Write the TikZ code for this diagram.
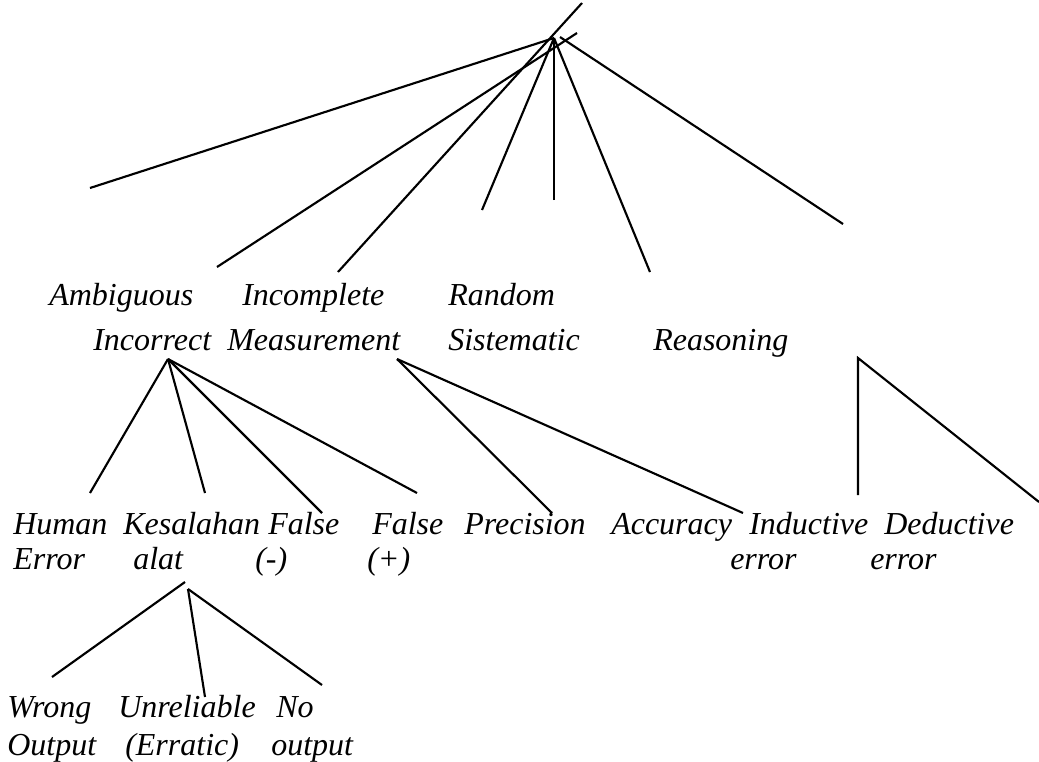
\documentclass[tikz,border=0pt]{standalone}
\usepackage{fontspec}
\setmainfont{Liberation Serif}
\begin{document}
\begin{tikzpicture}[x=0.75pt,y=-0.75pt,
  lbl/.style={anchor=base west,inner sep=0pt,font=\fontsize{24}{28}\selectfont\itshape},
  branch/.style={line width=1.6pt}]
\useasboundingbox (0,0) rectangle (1039,761);

% ---- labels ----
\node[lbl] (ambiguous)   at (49,305)  {Ambiguous};
\node[lbl] (incomplete)  at (242,305) {Incomplete};
\node[lbl] (random)      at (448,305) {Random};
\node[lbl] (incorrect)   at (93,350)  {Incorrect};
\node[lbl] (measurement) at (227,350) {Measurement};
\node[lbl] (sistematic)  at (448,350) {Sistematic};
\node[lbl] (reasoning)   at (653,350) {Reasoning};

\node[lbl] (human)     at (13,534)  {Human};
\node[lbl] (humanb)    at (13,569)  {Error};
\node[lbl] (kesalahan) at (123,534) {Kesalahan};
\node[lbl] (kesalb)    at (133,569) {alat};
\node[lbl] (falseneg)  at (268,534) {False};
\node[lbl] (falsenegb) at (255,569) {(-)};
\node[lbl] (falsepos)  at (372,534) {False};
\node[lbl] (falseposb) at (367,569) {(+)};
\node[lbl] (precision) at (464,534) {Precision};
\node[lbl] (accuracy)  at (611,534) {Accuracy};
\node[lbl] (inductive) at (749,534) {Inductive};
\node[lbl] (inductb)   at (730,569) {error};
\node[lbl] (deductive) at (884,534) {Deductive};
\node[lbl] (deductb)   at (870,569) {error};

\node[lbl] (wrong)      at (7,717)   {Wrong};
\node[lbl] (wrongb)     at (7,755)   {Output};
\node[lbl] (unreliable) at (118,717) {Unreliable};
\node[lbl] (unrelb)     at (125,755) {(Erratic)};
\node[lbl] (nooutput)   at (276,717) {No};
\node[lbl] (nooutb)     at (271,755) {output};

% ---- branch end points ----
\coordinate (root)    at (554,38);
\coordinate (rootA)   at (577,33);
\coordinate (rootB)   at (582,3);
\coordinate (rootC)   at (560,37);
\coordinate (tAmb)    at (90,188);
\coordinate (tInc)    at (217,267);
\coordinate (tIncm)   at (338,272);
\coordinate (tRnd)    at (482,210);
\coordinate (tMid)    at (554,200);
\coordinate (tSis)    at (650,272);
\coordinate (tRea)    at (843,224);

\coordinate (incr)    at (168,359);
\coordinate (tHuman)  at (90,493);
\coordinate (tKes)    at (205,493);
\coordinate (tFneg)   at (322,513);
\coordinate (tFpos)   at (417,493);

\coordinate (meas)    at (397,359);
\coordinate (tPrec)   at (552,513);
\coordinate (tInd)    at (743,513);

\coordinate (reas)    at (858,358);
\coordinate (tDedV)   at (858,495);
\coordinate (tDedD)   at (1039,502);

\coordinate (alatTop) at (185,582);
\coordinate (alatMid) at (188,589);
\coordinate (tWrong)  at (52,677);
\coordinate (tUnrel)  at (205,697);
\coordinate (tNo)     at (322,685);

% ---- top fan ----
\draw[branch] (tAmb) -- (root);
\draw[branch] (tInc) -- (rootA);
\draw[branch] (tIncm) -- (rootB);
\draw[branch] (tRnd) -- (root);
\draw[branch] (tMid) -- (root);
\draw[branch] (tSis) -- (root);
\draw[branch] (tRea) -- (rootC);

% ---- Incorrect ----
\draw[branch] (incr) -- (tHuman);
\draw[branch] (incr) -- (tKes);
\draw[branch] (incr) -- (tFneg);
\draw[branch] (incr) -- (tFpos);

% ---- Measurement ----
\draw[branch] (meas) -- (tPrec);
\draw[branch] (meas) -- (tInd);

% ---- Reasoning ----
\draw[branch] (tDedV) -- (reas) -- (tDedD);

% ---- Kesalahan alat ----
\draw[branch] (alatTop) -- (tWrong);
\draw[branch] (alatMid) -- (tUnrel);
\draw[branch] (alatMid) -- (tNo);
\end{tikzpicture}
\end{document}
